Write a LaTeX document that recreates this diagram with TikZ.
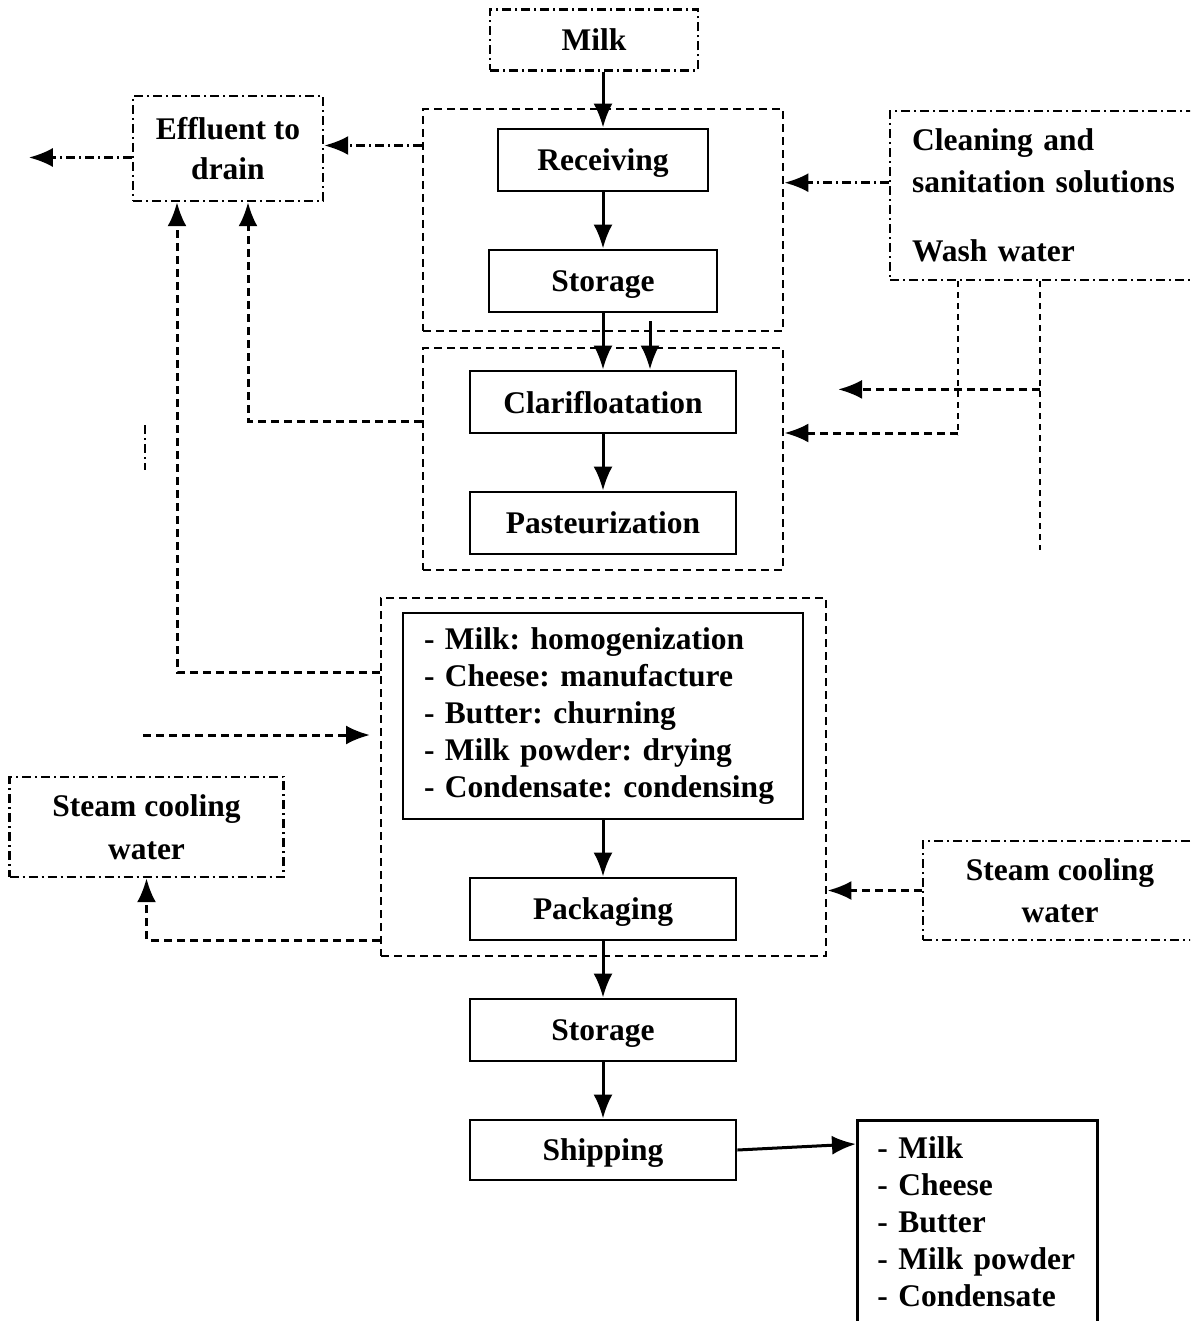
\documentclass[tikz,border=0pt]{standalone}
\usepackage{fontspec}
\setmainfont{Liberation Serif}
\usetikzlibrary{arrows.meta,positioning}
\frenchspacing

\begin{document}
\begin{tikzpicture}[x=1pt,y=-1pt,>={Latex[length=24pt,width=19pt]},
  every node/.style={font=\fontsize{31.5}{37}\selectfont\bfseries},
  proc/.style={draw,line width=2.8pt,minimum height=62pt,inner sep=0pt},
  stage/.style={proc,text depth=0pt},
  src/.style={draw,line width=2.4pt,dash pattern=on 9pt off 4pt on 2pt off 4pt,inner sep=0pt,align=center},
  grp/.style={draw,line width=2.8pt,dash pattern=on 8pt off 5pt,inner sep=0pt},
  flow/.style={line width=3pt,->},
  dd/.style={line width=2.8pt,dash pattern=on 9pt off 4pt on 2pt off 4pt},
  dsh/.style={line width=3pt,dash pattern=on 8pt off 5pt},
  wdsh/.style={line width=2pt,dash pattern=on 6pt off 5pt}]
  \path[use as bounding box,clip] (0,0) rectangle (1190,1321);

  % Process groups
  \node[grp,minimum width=360pt,minimum height=222pt] (g1) at (603,220) {};
  \node[grp,minimum width=360pt,minimum height=222pt] (g2) at (603,459) {};
  \node[grp,minimum width=445pt,minimum height=358pt] (g3) at (603.5,777) {};

  % Main line
  \node[src,minimum width=208pt,minimum height=61pt] (milk) at (594,40) {Milk};
  \node[stage,minimum width=210pt] (recv) at (603,160) {Receiving};
  \node[stage,minimum width=228pt] (stor1) at (603,281) {Storage};
  \node[stage,minimum width=266pt] (clar) at (603,402) {Clarifloatation};
  \node[stage,minimum width=266pt] (past) at (603,523) {Pasteurization};
  \node[proc,minimum width=400pt,minimum height=206pt,text width=358pt,align=left] (ops) at (603,716)
    {- Milk: homogenization\\- Cheese: manufacture\\- Butter: churning\\- Milk powder: drying\\- Condensate: condensing};
  \node[stage,minimum width=266pt] (pack) at (603,909) {Packaging};
  \node[stage,minimum width=266pt] (stor2) at (603,1030) {Storage};
  \node[stage,minimum width=266pt,minimum height=60pt] (ship) at (603,1150) {Shipping};
  \node[proc,anchor=north west,text width=200pt,align=left,inner xsep=20pt,inner ysep=16pt] (prod) at (856,1119)
    {- Milk\\- Cheese\\- Butter\\- Milk powder\\- Condensate};

  % Inputs and outputs
  \node[src,minimum width=190pt,minimum height=105pt] (eff) at (228,148.5) {Effluent to\\[3pt]drain};
  \node[src,anchor=north west,minimum height=169pt,text width=290pt,align=left,inner xsep=22pt] (clean) at (889,110)
    {Cleaning and\\[5pt]sanitation solutions\\[32pt]Wash water};
  \node[src,minimum width=274pt,minimum height=100pt] (steamL) at (146.5,827) {Steam cooling\\[6pt]water};
  \node[src,minimum width=274pt,minimum height=99pt] (steamR) at (1060,890.5) {Steam cooling\\[5pt]water};

  % Product flow
  \draw[flow] (recv.north |- milk.south) -- (recv.north);
  \draw[flow] (recv) -- (stor1);
  \draw[flow] (stor1) -- (clar);
  \draw[flow] ([xshift=47pt,yshift=-8pt]stor1.south) -- ([xshift=47pt]clar.north);
  \draw[flow] (clar) -- (past);
  \draw[flow] (ops) -- (pack);
  \draw[flow] (pack) -- (stor2);
  \draw[flow] (stor2) -- (ship);
  \draw[flow] (ship.east) -- ([yshift=6pt]prod.west |- ship.east);

  % Effluent
  \draw[dd,->] ([yshift=3pt]g1.west |- eff.east) -- ([yshift=3pt]eff.east);
  \draw[dd,->] ([yshift=-9pt]eff.west) -- ++(-103,0);
  \draw[dsh,->] ([yshift=38pt]g2.west) -| ([xshift=20pt]eff.south);
  \draw[dsh,->] ([yshift=105pt]g3.west) -| ([xshift=-51pt]eff.south);
  \draw[dd,line width=2pt] (145,425) -- (145,470);

  % Cleaning and wash water
  \coordinate (c1) at ([yshift=13pt]clean.west);
  \coordinate (w1) at ([xshift=69pt]clean.south west);
  \coordinate (w2) at ([xshift=151pt]clean.south west);
  \draw[dd,->] (c1) -- (c1 -| g1.east);
  \draw[wdsh] (w1) -- ++(0,154);
  \draw[dsh,->] ([yshift=26pt]g2.east -| w1) -- ([yshift=26pt]g2.east);
  \draw[wdsh] (w2) -- ++(0,269);
  \draw[dsh,->] (w2) ++(0,108) -- ++(-202,0);

  % Steam cooling water
  \coordinate (s2) at (143,735);
  \draw[dsh,->] (s2) -- ++(227,0);
  \draw[dsh,->] (steamR.west) -- (steamR.west -| g3.east);
  \draw[dsh,->] ([yshift=-163pt]g3.west) -| (steamL.south);
\end{tikzpicture}
\end{document}
